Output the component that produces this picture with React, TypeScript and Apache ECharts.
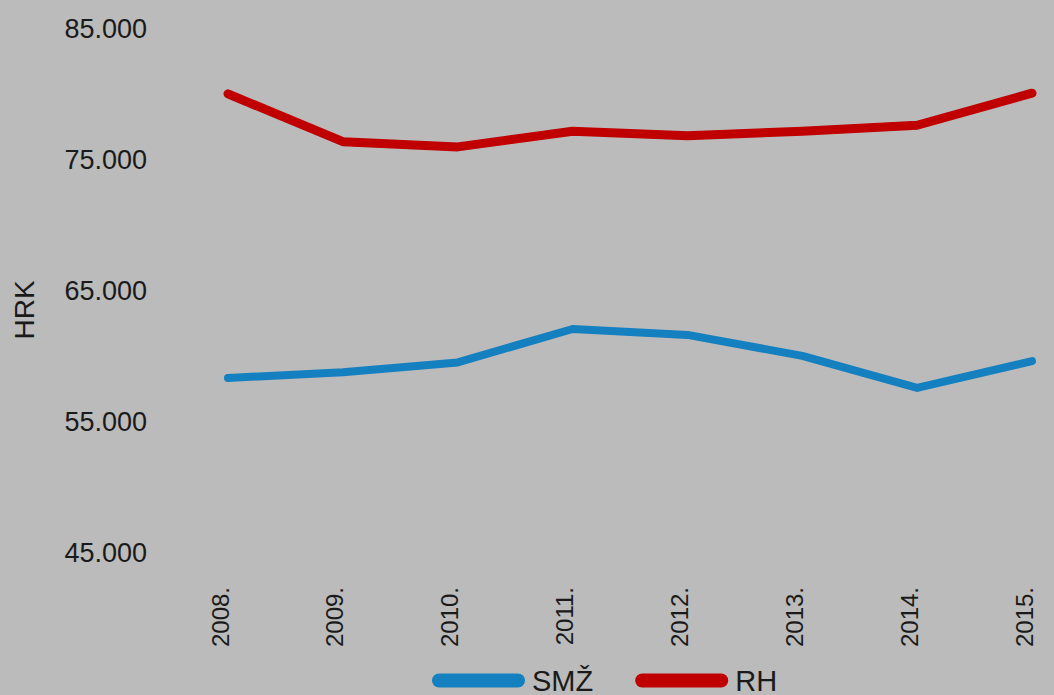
import React, { useEffect, useRef } from "react";
import * as echarts from "echarts";

const years = ["2008.", "2009.", "2010.", "2011.", "2012.", "2013.", "2014.", "2015."];
const smz = [58360, 58800, 59550, 62100, 61650, 60050, 57600, 59650];
const rh = [80050, 76400, 76000, 77200, 76850, 77200, 77650, 80100];
const yTicks = { min: 45000, max: 85000, interval: 10000 };

const fmt = (v: number) => {
  const s = Math.round(v).toString();
  return s.replace(/\B(?=(\d{3})+(?!\d))/g, ".");
};

const FONT = "'Liberation Sans Narrow', 'Liberation Sans', Arial, sans-serif";
const capsule = "path://M7,0 L86,0 A7,7 0 0 1 86,14 L7,14 A7,7 0 0 1 7,0 Z";

export default function App() {
  const ref = useRef<HTMLDivElement>(null);
  useEffect(() => {
    if (!ref.current) return;
    const chart = echarts.init(ref.current, undefined, { renderer: "svg" });
    chart.setOption({
      animation: false,
      backgroundColor: "#bbbbbb",
      textStyle: { fontFamily: FONT },
      grid: { left: 228, right: 22, top: 29, bottom: 142, containLabel: false, outerBoundsMode: "none" },
      legend: {
        left: 427,
        top: 661,
        itemWidth: 93,
        itemHeight: 14,
        itemGap: 42,
        icon: capsule,
        textStyle: { fontSize: 29, color: "#1a1a1a", fontFamily: FONT, padding: [0, 0, 0, 2] },
        data: [
          { name: "SMŽ", itemStyle: { color: "#1580c0" } },
          { name: "RH", itemStyle: { color: "#c00000" } },
        ],
      },
      xAxis: {
        type: "category",
        data: years,
        boundaryGap: false,
        axisLine: { show: false },
        axisTick: { show: false },
        axisLabel: {
          rotate: 90,
          margin: 34,
          fontSize: 24,
          lineHeight: 16,
          verticalAlign: "bottom",
          color: "#1a1a1a",
          fontFamily: FONT,
        },
      },
      yAxis: {
        type: "value",
        min: yTicks.min,
        max: yTicks.max,
        interval: yTicks.interval,
        name: "HRK",
        nameLocation: "middle",
        nameRotate: 90,
        nameGap: 190,
        nameTextStyle: { fontSize: 28, color: "#1a1a1a", fontFamily: FONT, padding: [0, 38, 0, 0] },
        splitLine: { show: false },
        axisLine: { show: false },
        axisTick: { show: false },
        axisLabel: {
          margin: 81,
          fontSize: 27,
          color: "#1a1a1a",
          fontFamily: FONT,
          formatter: (v: number) => fmt(v),
        },
      },
      series: [
        {
          name: "SMŽ",
          type: "line",
          data: smz,
          showSymbol: false,
          symbol: "none",
          lineStyle: { color: "#1580c0", width: 8, cap: "round", join: "round" },
          itemStyle: { color: "#1580c0" },
        },
        {
          name: "RH",
          type: "line",
          data: rh,
          showSymbol: false,
          symbol: "none",
          lineStyle: { color: "#c00000", width: 9, cap: "round", join: "round" },
          itemStyle: { color: "#c00000" },
        },
      ],
    });
    return () => chart.dispose();
  }, []);
  return (
    <div
      ref={ref}
      style={{ position: "fixed", left: 0, top: 0, width: 1054, height: 695 }}
    />
  );
}
